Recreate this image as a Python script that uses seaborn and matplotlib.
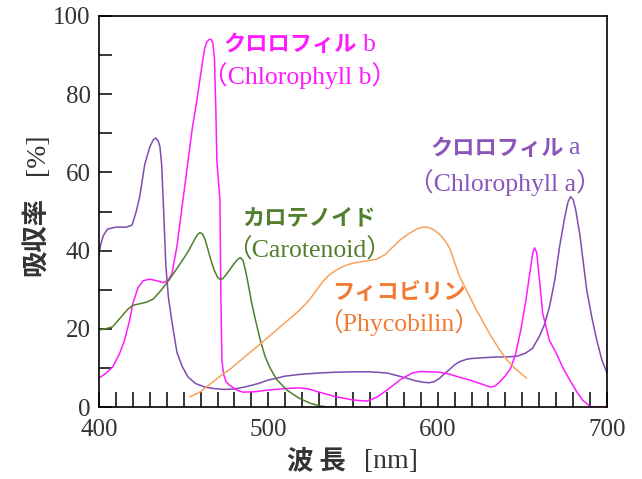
import numpy as np
import pandas as pd
import matplotlib
matplotlib.use("Agg")
import matplotlib.pyplot as plt
import matplotlib.ticker as mticker
import seaborn as sns

# ── DATA ─────────────────────────────────────────────────────────────────────
chl_a_nm = [400, 401, 402.5, 405, 410, 416, 419.5, 422, 424, 427, 430, 432, 433.5,
            435, 436, 437, 438, 439.5, 441, 443, 446, 449, 452.5, 457, 462.5, 468,
            474, 480, 487, 494, 500, 510, 520, 530, 540, 550, 560, 570, 579, 587,
            592, 595, 598, 601, 604, 607, 610, 613, 617, 620, 627, 635, 641, 647,
            652, 656, 660, 663, 666, 669, 672, 675, 677, 678.5, 680, 681.5, 684,
            688, 691, 694, 697, 700]
chl_a_val = [39, 41.5, 43.8, 45.5, 46, 46, 46.5, 50, 53.7, 62, 66.5, 68.3, 68.8,
             68, 66.5, 62, 52, 36, 28, 22, 14, 10.5, 7.7, 6, 5.1, 4.7,
             4.5, 4.6, 5.2, 6, 6.9, 7.9, 8.4, 8.7, 8.9, 9, 9, 8.7, 7.7, 6.7,
             6.3, 6.2, 6.5, 7.3, 8.5, 9.6, 10.8, 11.6, 12.2, 12.4, 12.6, 12.8, 12.8, 13,
             13.8, 15, 18, 21, 25.6, 32, 41, 48.5, 52.5, 53.8, 53, 50.5, 44,
             30, 23, 17, 12, 8.7]

chl_b_nm = [400, 404, 408, 412, 415, 418, 420, 423, 426, 430, 434, 438, 441, 443,
            446, 449, 452, 455, 458, 461, 462.5, 463.7, 465, 466.3, 467.3, 468.2,
            469, 469.6, 471.4, 472, 472.6, 473.5, 475, 477, 481, 485, 492, 499, 510,
            518, 524, 530, 540, 550, 558, 564, 570, 578, 585, 590, 595, 601, 607,
            613, 619, 625, 629, 631.5, 634, 637, 640, 643, 646, 649, 652, 654.5,
            656.2, 657.2, 658.5, 660, 662, 666, 670, 674, 678, 682, 685.5, 689,
            691, 700]
chl_b_val = [7.4, 8.6, 10.2, 13.5, 17, 22, 26.5, 30.5, 32.3, 32.7, 32.3, 31.8, 32.5, 34,
             41, 51, 61, 71, 79, 88, 91.8, 93.4, 94, 94, 93, 89,
             76, 63, 53, 27.4, 12, 8.5, 6.5, 5.6, 4.4, 3.8, 3.9, 4.3, 4.7,
             4.9, 4.6, 3.8, 2.6, 1.8, 1.5, 2.5, 4.3, 7, 8.7, 9.1, 9, 8.9, 8.4,
             7.6, 6.9, 6, 5.4, 5.1, 5.4, 6.6, 8, 9.8, 13.5, 19.5, 27, 34.5,
             39.5, 40.7, 39.5, 33, 24, 17, 13.8, 10, 6.9, 4, 1.8, 0.5,
             0, 0]

carot_nm = [400, 404, 408, 411, 414, 417, 420, 424, 428, 432, 436, 440, 443, 446.6,
            450, 453, 456, 458, 459.6, 461, 462.5, 464, 466, 468, 470, 471.5, 473,
            475, 477, 480, 482, 483.5, 485, 486.5, 488, 490, 492, 495, 498, 501, 505,
            511, 518, 524.5, 530, 535, 539]
carot_val = [19.7, 20, 20.5, 22, 23.5, 25, 26, 26.4, 26.8, 27.6, 29.5, 31.7, 33.5, 35.8,
             38, 40, 42.5, 44, 44.6, 44.3, 43, 40.8, 37.7, 35, 33.2, 32.6, 32.8,
             33.8, 35, 36.8, 37.8, 38.2, 37.5, 35, 31.7, 27, 23, 17.5, 13, 10, 7,
             4.3, 2.3, 1, 0.3, 0, 0]

phyco_nm = [453.7, 459.6, 466, 474, 477, 486, 496, 507, 518.6, 524, 528, 532, 536,
            540, 545, 550, 557, 564, 569, 573, 578, 583.5, 588, 591, 594, 597, 600,
            603, 605.5, 607.5, 610, 613, 616, 619, 622.5, 626.5, 631, 636.6, 641,
            646.6, 652.5]
phyco_val = [2.6, 3.8, 6, 8.7, 9.5, 12.8, 16.4, 20.5, 24.8, 27.3, 29.6, 32, 33.8,
             35, 36.1, 36.8, 37.3, 37.8, 39, 40.7, 42.8, 44.5, 45.6, 46, 46, 45.5, 44.6,
             43.3, 41.8, 40.2, 37, 33.3, 30.7, 28.2, 25.1, 22, 18.5, 14.6, 12,
             9.5, 7.4]

X_TICKS = [400, 500, 600, 700]
Y_TICKS = [0, 20, 40, 60, 80, 100]

# ── STYLE ────────────────────────────────────────────────────────────────────
sns.set_theme(style="ticks")
SERIF_JP = ["Liberation Serif", "Noto Sans CJK JP"]
plt.rcParams["font.family"] = SERIF_JP

PURPLE = "#7D4CAE"
PURPLE_TXT = "#8B55BA"
MAGENTA = "#FF1AFF"
GREEN = "#4E7F2A"
GREEN_TXT = "#527F2E"
ORANGE = "#F7A25C"
ORANGE_TXT = "#F27A33"
GRAY = "#333333"

fig = plt.figure(figsize=(6.42, 4.79), dpi=100)
ax = fig.add_axes([99 / 642, 1 - 407 / 479, 508 / 642, 391 / 479])

for xs, ys, color in [
    (chl_a_nm, chl_a_val, PURPLE),
    (chl_b_nm, chl_b_val, MAGENTA),
    (carot_nm, carot_val, GREEN),
    (phyco_nm, phyco_val, ORANGE),
]:
    d = pd.DataFrame({"nm": xs, "val": ys})
    sns.lineplot(data=d, x="nm", y="val", color=color, lw=1.1, ax=ax,
                 estimator=None, sort=False)

ax.set_xlim(400, 700)
ax.set_ylim(0, 100)
ax.set_xticks(X_TICKS)
ax.set_yticks(Y_TICKS)
ax.xaxis.set_minor_locator(mticker.MultipleLocator(10))
ax.yaxis.set_minor_locator(mticker.MultipleLocator(10))
ax.tick_params(axis="x", which="both", direction="in", length=11, width=1.1,
               color="black", labelsize=18, labelcolor=GRAY, pad=9)
ax.tick_params(axis="y", which="both", direction="in", length=9, width=1.1,
               color="black", labelsize=18, labelcolor=GRAY, pad=6)
for sp in ax.spines.values():
    sp.set_visible(True)
    sp.set_color("black")
    sp.set_linewidth(1.2)
ax.set_xlabel("")
ax.set_ylabel("")

# ── AXIS LABELS ──────────────────────────────────────────────────────────────
fig.text(316 / 642, 1 - 461 / 479, "波 長", ha="center", va="center",
         fontsize=19, weight="bold", color=GRAY, family=["Noto Sans CJK JP"])
fig.text(391 / 642, 1 - 461 / 479, "[nm]", ha="center", va="center",
         fontsize=20, color=GRAY, family=["Liberation Serif"])
fig.text(36 / 642, 1 - 236 / 479, "吸収率", ha="center", va="center",
         rotation=90, fontsize=19, weight="bold", color=GRAY,
         family=["Noto Sans CJK JP"])
fig.text(37 / 642, 1 - 154 / 479, "[%]", ha="center", va="center",
         rotation=90, fontsize=20, color=GRAY, family=["Liberation Serif"])

# ── CURVE LABELS ─────────────────────────────────────────────────────────────
# Japanese names (bold gothic), a trailing Latin letter, and the English line
jp_names = [
    (473.2, 92.6, "クロロフィル", MAGENTA, "left"),
    (595.5, 66.2, "クロロフィル", PURPLE_TXT, "left"),
    (523.7, 48.3, "カロテノイド", GREEN_TXT, "center"),
    (576.9, 29.2, "フィコビリン", ORANGE_TXT, "center"),
]
for x, y, s, c, ha in jp_names:
    ax.text(x, y, s, color=c, fontsize=16, weight="bold", ha=ha, va="center",
            family=["Noto Sans CJK JP"])

letters = [(555.9, 92.6, "b", MAGENTA), (677.0, 66.2, "a", PURPLE_TXT)]
for x, y, s, c in letters:
    ax.text(x, y, s, color=c, fontsize=18.5, ha="left", va="center",
            family=["Liberation Serif"])

en_names = [
    (518.5, 84.9, "（Chlorophyll b）", MAGENTA),
    (639.8, 57.5, "（Chlorophyll a）", PURPLE_TXT),
    (524.0, 40.2, "（Carotenoid）", GREEN_TXT),
    (576.9, 21.7, "（Phycobilin）", ORANGE_TXT),
]
for x, y, s, c in en_names:
    ax.text(x, y, s, color=c, fontsize=18.5, ha="center", va="center",
            family=SERIF_JP)

plt.savefig("out.png", dpi=100)
plt.close()
